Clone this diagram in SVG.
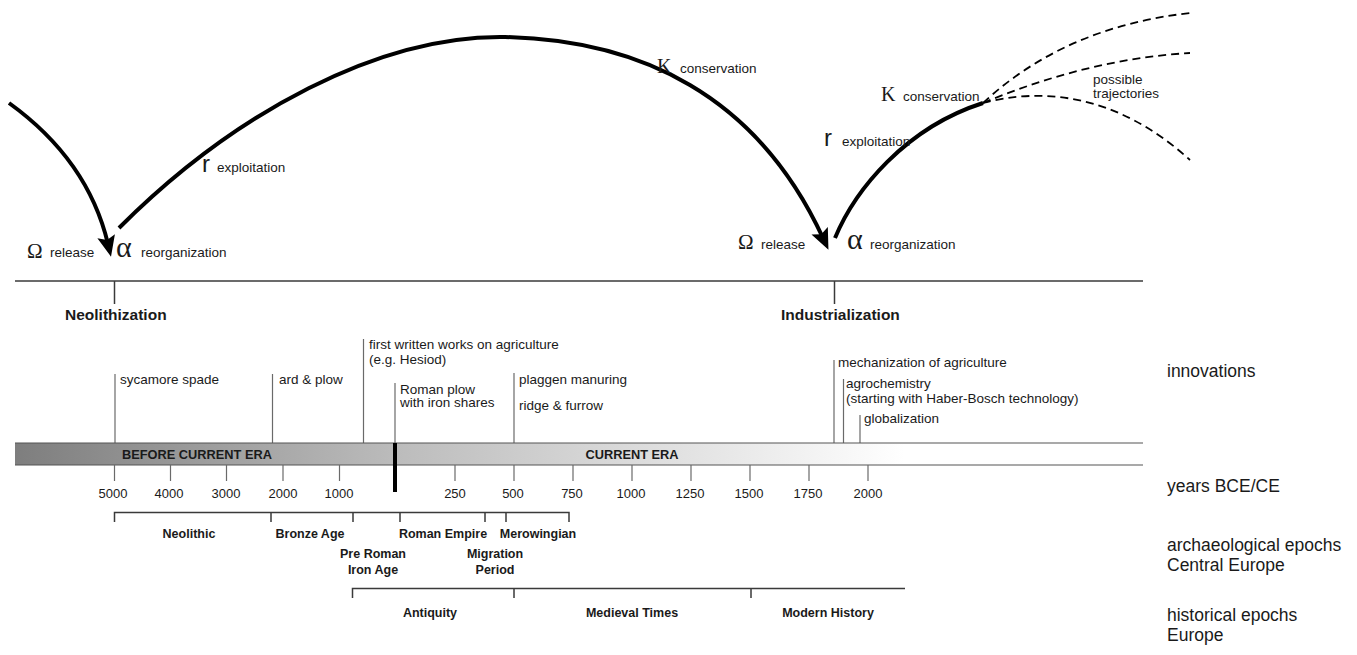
<svg xmlns="http://www.w3.org/2000/svg" width="1357" height="655" viewBox="0 0 1357 655">
<style>
text{font-family:"Liberation Sans",Arial,sans-serif;fill:#1a1a1a}
.s{font-size:13.5px}
.g{font-family:"Liberation Serif","Times New Roman",serif}
.b{font-weight:bold;font-size:12.5px;text-anchor:middle}
.h{font-weight:bold;font-size:15.5px}
.y{font-size:13px;text-anchor:middle}
.lab{font-size:17.5px}
.cyc{fill:none;stroke:#000;stroke-width:4}
.dash{fill:none;stroke:#000;stroke-width:1.8;stroke-dasharray:8 5}
.inn{stroke:#6a6a6a;stroke-width:1.2}
.ax{stroke:#3a3a3a;stroke-width:1.5;fill:none}
.br{stroke:#3a3a3a;stroke-width:1.5;fill:none}
</style>
<defs>
<marker id="ah" markerUnits="userSpaceOnUse" markerWidth="24" markerHeight="20" refX="8" refY="9" orient="auto">
<path d="M0,0 L21,9 L0,18 L4,9 z" fill="#000"/>
</marker>
<linearGradient id="bar" gradientUnits="userSpaceOnUse" x1="15" y1="0" x2="905" y2="0">
<stop offset="0" stop-color="#7e7e7e"/>
<stop offset="0.43" stop-color="#bcbcbc"/>
<stop offset="1" stop-color="#ffffff"/>
</linearGradient>
</defs>

<g id="connectors">
<path class="cyc" d="M9,103 Q88,160 108,244" marker-end="url(#ah)"/>
<path class="cyc" d="M119,228 C235,112 380,35 505,37 C640,40 757,95 823,238" marker-end="url(#ah)"/>
<path class="cyc" d="M835,238 C855,190 905,128 983,103"/>
<path class="dash" d="M983,103 C1040,50 1110,22 1190,13"/>
<path class="dash" d="M983,103 C1050,75 1120,57 1190,53"/>
<path class="dash" d="M983,103 C1040,88 1115,92 1190,160"/>
</g>

<g id="cycle-labels">
<text class="g" x="27" y="258" font-size="21">Ω</text>
<text class="s" x="50" y="257">release</text>
<text class="g" x="116" y="257" font-size="30">α</text>
<text class="s" x="141" y="257">reorganization</text>
<text x="202" y="172" font-size="24">r</text>
<text class="s" x="217" y="172">exploitation</text>
<text class="g" x="657" y="73" font-size="20">K</text>
<text class="s" x="680" y="73">conservation</text>
<text class="g" x="738" y="249" font-size="21">Ω</text>
<text class="s" x="761" y="249">release</text>
<text class="g" x="847" y="249" font-size="30">α</text>
<text class="s" x="870" y="249">reorganization</text>
<text x="824" y="146" font-size="24">r</text>
<text class="s" x="842" y="146">exploitation</text>
<text class="g" x="881" y="101" font-size="20">K</text>
<text class="s" x="903" y="101">conservation</text>
<text class="s" x="1093" y="84">possible</text>
<text class="s" x="1093" y="98">trajectories</text>
</g>

<g id="transitions">
<line class="ax" x1="15" y1="281" x2="1143" y2="281"/>
<line class="ax" x1="114.5" y1="281" x2="114.5" y2="304"/>
<line class="ax" x1="834.5" y1="281" x2="834.5" y2="304"/>
<text class="h" x="65" y="320">Neolithization</text>
<text class="h" x="781" y="320">Industrialization</text>
</g>

<g id="innovations">
<line class="inn" x1="115" y1="374" x2="115" y2="443"/>
<text class="s" x="120" y="384">sycamore spade</text>
<line class="inn" x1="272.5" y1="374" x2="272.5" y2="443"/>
<text class="s" x="279" y="384">ard &amp; plow</text>
<line class="inn" x1="363.5" y1="339" x2="363.5" y2="443"/>
<text class="s" x="369" y="349">first written works on agriculture</text>
<text class="s" x="369" y="364">(e.g. Hesiod)</text>
<line class="inn" x1="395" y1="383" x2="395" y2="443"/>
<text class="s" x="400" y="394">Roman plow</text>
<text class="s" x="400" y="407">with iron shares</text>
<line class="inn" x1="514" y1="373" x2="514" y2="443"/>
<text class="s" x="519" y="384">plaggen manuring</text>
<text class="s" x="519" y="410">ridge &amp; furrow</text>
<line class="inn" x1="834" y1="360" x2="834" y2="443"/>
<text class="s" x="838" y="367">mechanization of agriculture</text>
<line class="inn" x1="843.5" y1="379" x2="843.5" y2="443"/>
<text class="s" x="846" y="388">agrochemistry</text>
<text class="s" x="846" y="403">(starting with Haber-Bosch technology)</text>
<line class="inn" x1="860" y1="415" x2="860" y2="443"/>
<text class="s" x="864" y="423">globalization</text>
</g>

<g id="timeline">
<rect x="15" y="443" width="1128" height="22" fill="url(#bar)"/>
<line x1="15" y1="443" x2="1143" y2="443" stroke="#555" stroke-width="1.2"/>
<line x1="15" y1="465" x2="1143" y2="465" stroke="#555" stroke-width="1.2"/>
<text x="197" y="459" font-weight="bold" font-size="12.8" text-anchor="middle">BEFORE CURRENT ERA</text>
<text x="632" y="459" font-weight="bold" font-size="12.8" text-anchor="middle">CURRENT ERA</text>
<line x1="395" y1="443" x2="395" y2="492" stroke="#000" stroke-width="4"/>
<g stroke="#6a6a6a" stroke-width="1.2">
<line x1="114.5" y1="465" x2="114.5" y2="481"/>
<line x1="170.5" y1="465" x2="170.5" y2="481"/>
<line x1="226.5" y1="465" x2="226.5" y2="481"/>
<line x1="283" y1="465" x2="283" y2="481"/>
<line x1="339.5" y1="465" x2="339.5" y2="481"/>
<line x1="455" y1="465" x2="455" y2="481"/>
<line x1="514" y1="465" x2="514" y2="481"/>
<line x1="573" y1="465" x2="573" y2="481"/>
<line x1="632" y1="465" x2="632" y2="481"/>
<line x1="691" y1="465" x2="691" y2="481"/>
<line x1="750" y1="465" x2="750" y2="481"/>
<line x1="809" y1="465" x2="809" y2="481"/>
<line x1="868" y1="465" x2="868" y2="481"/>
</g>
<text class="y" x="113" y="498">5000</text>
<text class="y" x="169" y="498">4000</text>
<text class="y" x="226" y="498">3000</text>
<text class="y" x="283" y="498">2000</text>
<text class="y" x="339" y="498">1000</text>
<text class="y" x="455" y="498">250</text>
<text class="y" x="513" y="498">500</text>
<text class="y" x="572" y="498">750</text>
<text class="y" x="631" y="498">1000</text>
<text class="y" x="690" y="498">1250</text>
<text class="y" x="749" y="498">1500</text>
<text class="y" x="808" y="498">1750</text>
<text class="y" x="868" y="498">2000</text>
</g>

<g id="archaeological-epochs">
<path class="br" d="M114.5,522 V512.5 H569 V522 M271,512.5 V522 M353,512.5 V522 M400,512.5 V522 M485,512.5 V522 M506,512.5 V522"/>
<text class="b" x="189" y="538">Neolithic</text>
<text class="b" x="310" y="538">Bronze Age</text>
<text class="b" x="443" y="538">Roman Empire</text>
<text class="b" x="538" y="538">Merowingian</text>
<text class="b" x="373" y="558">Pre Roman</text>
<text class="b" x="373" y="574">Iron Age</text>
<text class="b" x="495" y="558">Migration</text>
<text class="b" x="495" y="574">Period</text>
</g>

<g id="historical-epochs">
<path class="br" d="M352.5,598 V588.5 H905 M514,588.5 V598 M751,588.5 V598"/>
<text class="b" x="430" y="617">Antiquity</text>
<text class="b" x="632" y="617">Medieval Times</text>
<text class="b" x="828" y="617">Modern History</text>
</g>

<g id="row-labels">
<text class="lab" x="1167" y="377">innovations</text>
<text class="lab" x="1167" y="492">years BCE/CE</text>
<text class="lab" x="1167" y="551">archaeological epochs</text>
<text class="lab" x="1167" y="571">Central Europe</text>
<text class="lab" x="1167" y="621">historical epochs</text>
<text class="lab" x="1167" y="641">Europe</text>
</g>
</svg>
